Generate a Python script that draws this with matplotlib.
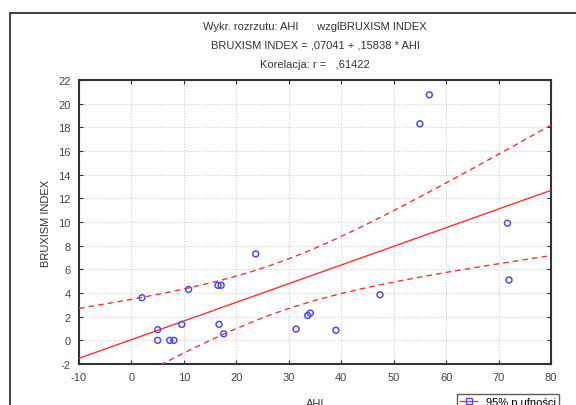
import numpy as np
import matplotlib
matplotlib.use("Agg")
import matplotlib.pyplot as plt
from matplotlib.lines import Line2D
from matplotlib.patches import Rectangle

plt.rcParams['font.family'] = ['Liberation Sans', 'DejaVu Sans']
plt.rcParams['axes.unicode_minus'] = False

# Data
ahi = [2.0, 5.0, 5.0, 7.3, 8.1, 9.6, 10.9, 16.5, 17.1, 16.7, 17.6,
       23.7, 31.4, 33.6, 34.1, 39.0, 47.4, 55.0, 56.8, 71.7, 72.0]
bruxism = [3.6, 0.9, 0.0, 0.0, 0.0, 1.35, 4.3, 4.65, 4.65, 1.35, 0.55,
           7.3, 0.95, 2.1, 2.3, 0.85, 3.85, 18.3, 20.75, 9.9, 5.1]

title_lines = ["Wykr. rozrzutu: AHI      wzglBRUXISM INDEX",
               "BRUXISM INDEX = ,07041 + ,15838 * AHI",
               "Korelacja: r =   ,61422"]
xlabel = "AHI"
ylabel = "BRUXISM INDEX"
legend_label = "95% p.ufności"
xticks = [-10, 0, 10, 20, 30, 40, 50, 60, 70, 80]
yticks = [-2, 0, 2, 4, 6, 8, 10, 12, 14, 16, 18, 20, 22]
t_crit = 2.093  # t(0.975, n-2 = 19)

x = np.array(ahi)
y = np.array(bruxism)
n = len(x)
slope, intercept = np.polyfit(x, y, 1)
resid = y - (intercept + slope * x)
s = np.sqrt(np.sum(resid ** 2) / (n - 2))
xm = x.mean()
sxx = np.sum((x - xm) ** 2)
xs = np.linspace(xticks[0], xticks[-1], 200)
yfit = intercept + slope * xs
hw = t_crit * s * np.sqrt(1.0 / n + (xs - xm) ** 2 / sxx)

fig = plt.figure(figsize=(5.76, 4.06), dpi=100)
fig.patches.append(Rectangle((10 / 576, -0.1), 1.2, 1 - 14 / 406 + 0.1,
                             transform=fig.transFigure, fill=False,
                             edgecolor='#222222', linewidth=1.2, zorder=0))

ax = fig.add_axes([79 / 576, 41 / 406, 472 / 576, 284 / 406])
red = '#ff3030'
ax.plot(xs, yfit, color=red, linewidth=1.0, zorder=3)
ax.plot(xs, yfit + hw, color=red, linewidth=1.0, linestyle=(0, (4, 3)), zorder=3)
ax.plot(xs, yfit - hw, color=red, linewidth=1.0, linestyle=(0, (4, 3)), zorder=3)
ax.scatter(x, y, s=18, facecolors='none', edgecolors='#4a4aff', linewidths=1.1, zorder=4)

ax.set_xlim(xticks[0], xticks[-1])
ax.set_ylim(yticks[0], yticks[-1])
ax.set_xticks(xticks)
ax.set_yticks(yticks)
ax.grid(True, color='#cfcfcf', linestyle=(0, (1, 1.5)), linewidth=0.8)
ax.tick_params(direction='in', length=3, width=0.8, labelsize=8, colors='#333333',
               top=True, right=True, pad=6)
ax.tick_params(labelcolor='#444444')
for sp in ax.spines.values():
    sp.set_linewidth(1.5)
    sp.set_color('#333333')

ax.set_xlabel(xlabel, fontsize=8, color='#333333', labelpad=11)
ax.set_ylabel(ylabel, fontsize=8, color='#333333', labelpad=5)

cx = (79 + 551) / 2 / 576
for i, t in enumerate(title_lines):
    fig.text(cx, 1 - (27 + 19 * i) / 406, t, ha='center', va='center',
             fontsize=8, color='#333333')

handle = Line2D([0], [0], color=red, linewidth=1.0, marker='s', markersize=4,
                markerfacecolor='none', markeredgecolor='#4a4aff')
fig.legend([handle], [legend_label], loc='upper left',
           bbox_to_anchor=(457 / 576, 1 - 395 / 406), borderaxespad=0,
           fontsize=8, frameon=True, fancybox=False, edgecolor='#333333',
           handlelength=1.5, borderpad=0.3)

fig.savefig("out.png", dpi=100)
